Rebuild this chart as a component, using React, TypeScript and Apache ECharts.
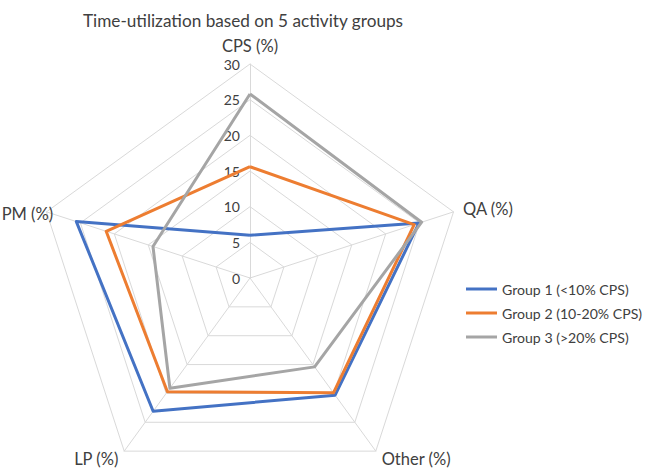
import React, { useEffect, useRef } from "react";
import * as echarts from "echarts";

// Clockwise order as seen in the chart, starting at the top
const indicators = ["CPS (%)", "QA (%)", "Other (%)", "LP (%)", "PM (%)"];
const group1 = [6.0, 24.9, 20.3, 23.1, 25.6];
const group2 = [15.6, 24.2, 19.9, 19.7, 21.2];
const group3 = [25.8, 25.3, 15.4, 19.1, 14.3];
const seriesNames = ["Group 1 (<10% CPS)", "Group 2 (10-20% CPS)", "Group 3 (>20% CPS)"];
const axisMax = 30;
const axisSplits = 6;

// ECharts radar goes counter-clockwise; reorder to display clockwise
const order = [0, 4, 3, 2, 1];
const reorder = (a: any[]) => order.map((i) => a[i]);

const FONT = "Lato";

export default function App() {
  const ref = useRef<HTMLDivElement>(null);
  useEffect(() => {
    document.body.style.margin = "0";
    const chart = echarts.init(ref.current!, null, { renderer: "svg" });
    const ind = reorder(indicators).map((name, i) => {
      const o: any = { name, min: 0, max: axisMax };
      if (i === 0) o.axisLabel = { show: true };
      if (name === "PM (%)") o.nameGap = -7;
      return o;
    });
    chart.setOption({
      animation: false,
      backgroundColor: "#ffffff",
      title: {
        text: "Time-utilization based on 5 activity groups",
        left: 238,
        top: 7,
        textAlign: "center",
        textStyle: { fontFamily: FONT, fontSize: 17.2, fontWeight: "normal", color: "#404040" },
      },
      legend: {
        orient: "vertical",
        left: 461,
        top: 277,
        itemWidth: 31,
        itemHeight: 3,
        itemGap: 10,
        icon: "rect",
        data: seriesNames,
        textStyle: { fontFamily: FONT, fontSize: 14.1, color: "#404040" },
      },
      radar: {
        center: [250, 278],
        radius: 214,
        startAngle: 90,
        shape: "polygon",
        splitNumber: axisSplits,
        indicator: ind,
        axisName: { fontFamily: FONT, fontSize: 16.5, color: "#404040" },
        nameGap: 10,
        splitArea: { show: false },
        splitLine: { lineStyle: { color: "#d9d9d9", width: 1 } },
        axisLine: { show: true, lineStyle: { color: "#d9d9d9", width: 1 } },
        axisTick: { show: false },
        axisLabel: {
          show: false,
          fontFamily: FONT,
          fontSize: 14,
          color: "#404040",
          margin: 10,
        },
      },
      series: [
        {
          type: "radar",
          symbol: "none",
          data: [
            { name: seriesNames[0], value: reorder(group1) },
            { name: seriesNames[1], value: reorder(group2) },
            { name: seriesNames[2], value: reorder(group3) },
          ],
          lineStyle: { width: 3 },
        },
      ],
      color: ["#4472C4", "#ED7D31", "#A5A5A5"],
    });
    return () => chart.dispose();
  }, []);
  return (
    <div
      ref={ref}
      style={{ position: "fixed", left: 0, top: 0, width: 646, height: 469 }}
    />
  );
}
